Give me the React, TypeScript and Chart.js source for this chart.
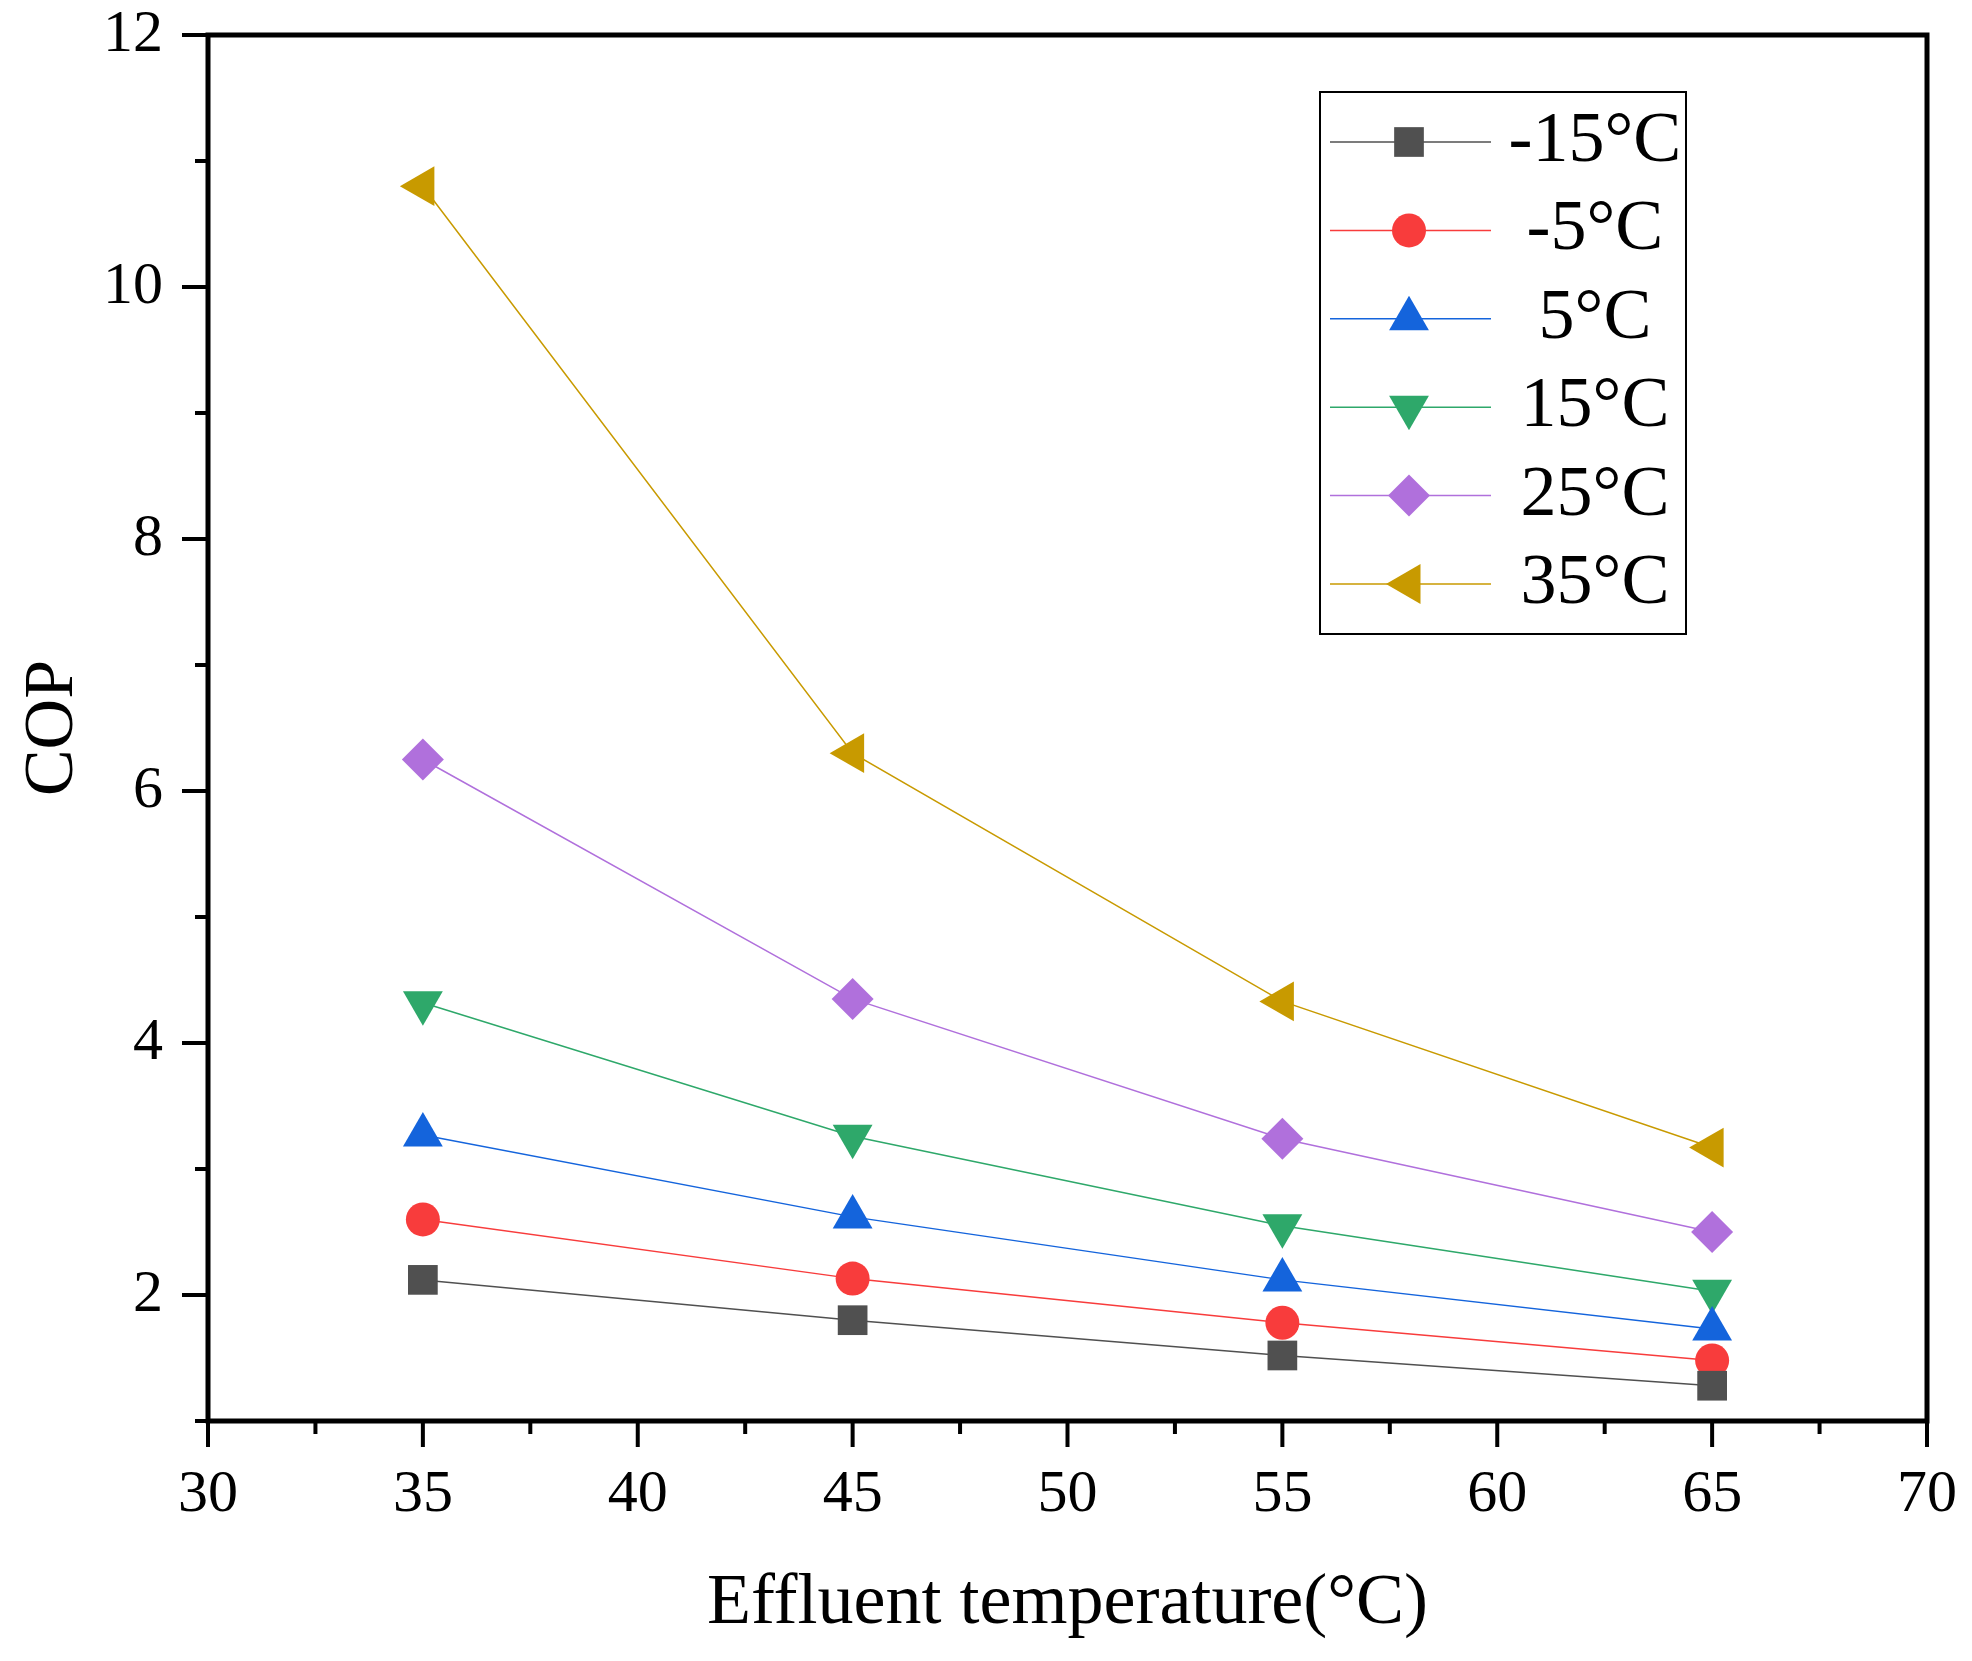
import { useEffect, useRef } from 'react'
import { Chart, registerables } from 'chart.js'
import { drawPoint } from 'chart.js/helpers'

Chart.register(...registerables)

const effluentTemps = [35, 45, 55, 65]
const seriesLabels = ['-15°C', '-5°C', '5°C', '15°C', '25°C', '35°C']
const copMinus15 = [2.12, 1.8, 1.52, 1.28]
const copMinus5 = [2.6, 2.13, 1.78, 1.48]
const cop5 = [3.27, 2.62, 2.12, 1.73]
const cop15 = [4.32, 3.26, 2.55, 2.03]
const cop25 = [6.25, 4.35, 3.24, 2.5]
const cop35 = [10.8, 6.3, 4.33, 3.17]

const seriesValues = [copMinus15, copMinus5, cop5, cop15, cop25, cop35]
const colors = ['#505050', '#f83c3c', '#1464dc', '#2ea86a', '#b070dc', '#c89a00']
const markers = [
  { pointStyle: 'rect', radius: 21, rotation: 0 },
  { pointStyle: 'circle', radius: 17, rotation: 0 },
  { pointStyle: 'triangle', radius: 23, rotation: 0 },
  { pointStyle: 'triangle', radius: 23, rotation: 180 },
  { pointStyle: 'rectRot', radius: 21, rotation: 0 },
  { pointStyle: 'triangle', radius: 23, rotation: 270 },
]

const FONT = '"Liberation Serif", "Times New Roman", serif'

// box + outward ticks like Origin
const framePlugin = {
  id: 'frame',
  afterDraw(chart: any) {
    const { ctx, chartArea: a, scales } = chart
    ctx.save()
    ctx.strokeStyle = '#000'
    ctx.lineWidth = 4
    ctx.lineCap = 'butt'
    scales.x.ticks.forEach((t: any) => {
      const px = scales.x.getPixelForValue(t.value)
      const len = t.value % 5 === 0 ? 26 : 13
      ctx.beginPath()
      ctx.moveTo(px, a.bottom)
      ctx.lineTo(px, a.bottom + len)
      ctx.stroke()
    })
    scales.y.ticks.forEach((t: any) => {
      const py = scales.y.getPixelForValue(t.value)
      const len = t.value % 2 === 0 ? 26 : 13
      ctx.beginPath()
      ctx.moveTo(a.left, py)
      ctx.lineTo(a.left - len, py)
      ctx.stroke()
    })
    ctx.lineWidth = 5
    ctx.lineCap = 'square'
    ctx.strokeRect(a.left, a.top, a.right - a.left, a.bottom - a.top)
    ctx.restore()
  },
}

const legendPlugin = {
  id: 'boxLegend',
  afterDraw(chart: any) {
    const { ctx, chartArea: a } = chart
    const left = a.right - 607
    const top = a.top + 57
    ctx.save()
    ctx.strokeStyle = '#000'
    ctx.lineWidth = 2
    ctx.strokeRect(left, top, 366, 542)
    chart.data.datasets.forEach((ds: any, i: number) => {
      const y = top + 50 + i * 88.4
      ctx.strokeStyle = ds.borderColor
      ctx.lineWidth = 1.5
      ctx.beginPath()
      ctx.moveTo(left + 10, y)
      ctx.lineTo(left + 171, y)
      ctx.stroke()
      ctx.fillStyle = ds.backgroundColor
      drawPoint(ctx, { pointStyle: ds.pointStyle, radius: ds.pointRadius, rotation: ds.pointRotation, borderWidth: 0 }, left + 89, y)
      ctx.fillStyle = '#000'
      ctx.font = `72px ${FONT}`
      ctx.textAlign = 'center'
      ctx.textBaseline = 'middle'
      ctx.fillText(ds.label, left + 275, y)
    })
    ctx.restore()
  },
}

export default function App() {
  const chartRef = useRef<HTMLCanvasElement>(null)
  const chartInstanceRef = useRef<Chart | null>(null)

  useEffect(() => {
    document.body.style.margin = '0'
    document.body.style.overflow = 'hidden'
    if (!chartRef.current) return
    const ctx = chartRef.current.getContext('2d')
    if (!ctx) return

    if (chartInstanceRef.current) {
      chartInstanceRef.current.destroy()
    }

    chartInstanceRef.current = new Chart(ctx, {
      type: 'line',
      data: {
        datasets: seriesValues.map((vals, i) => ({
          label: seriesLabels[i],
          data: vals.map((v, j) => ({ x: effluentTemps[j], y: v })),
          borderColor: colors[i],
          backgroundColor: colors[i],
          borderWidth: 1.5,
          pointStyle: markers[i].pointStyle as any,
          pointRadius: markers[i].radius,
          pointRotation: markers[i].rotation,
          pointBorderWidth: 0,
          pointBackgroundColor: colors[i],
          clip: false as any,
        })),
      },
      options: {
        responsive: true,
        maintainAspectRatio: false,
        animation: false,
        layout: { padding: { top: 35, right: 45, left: 0, bottom: 0 } },
        plugins: {
          legend: { display: false },
          tooltip: { enabled: false },
        },
        scales: {
          x: {
            type: 'linear',
            min: 30,
            max: 70,
            grid: { display: false, drawTicks: false },
            border: { display: false },
            ticks: {
              stepSize: 2.5,
              autoSkip: false,
              maxRotation: 0,
              padding: 38,
              color: '#000',
              font: { family: FONT, size: 60 },
              callback: (v: any) => (Number(v) % 5 === 0 ? String(v) : ''),
            },
            title: {
              display: true,
              text: 'Effluent temperature(°C)',
              color: '#000',
              font: { family: FONT, size: 72 },
              padding: { top: 0, bottom: 14 },
            },
            afterFit: (s: any) => {
              s.height = 240
              s.paddingLeft = 0
              s.paddingRight = 0
            },
          },
          y: {
            min: 1,
            max: 12,
            grid: { display: false, drawTicks: false },
            border: { display: false },
            ticks: {
              stepSize: 1,
              autoSkip: false,
              padding: 45,
              color: '#000',
              font: { family: FONT, size: 60 },
              callback: (v: any) => (Number(v) % 2 === 0 ? String(v) : ''),
            },
            title: {
              display: true,
              text: 'COP',
              color: '#000',
              font: { family: FONT, size: 70 },
              padding: { top: 12, bottom: 0 },
            },
            afterFit: (s: any) => {
              s.width = 208
              s.paddingTop = 0
              s.paddingBottom = 0
            },
          },
        },
      },
      plugins: [framePlugin, legendPlugin],
    })

    return () => {
      chartInstanceRef.current?.destroy()
      chartInstanceRef.current = null
    }
  }, [])

  return (
    <div style={{ width: 1972, height: 1661, position: 'relative', background: '#fff' }}>
      <canvas ref={chartRef}></canvas>
    </div>
  )
}
